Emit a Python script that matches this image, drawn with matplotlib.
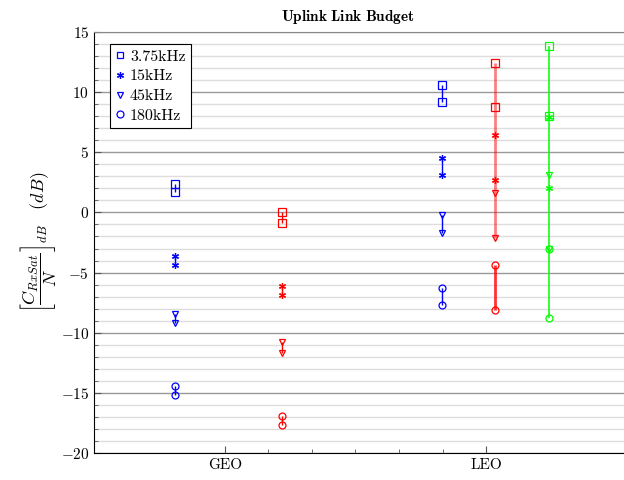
#!/usr/bin/env python

import matplotlib

matplotlib.use("Agg")
from matplotlib import pyplot, ticker

# orbit categories and x positions of each group of points
sites = ["GEO", "LEO"]
site_x = [1, 2]
group_x = [0.81, 1.22, 1.83, 2.035, 2.24]
group_color = ["blue", "red", "blue", "red", "lime"]

# upper / lower value for every bandwidth, one entry per group
labels = ["3.75kHz", "15kHz", "45kHz", "180kHz"]
sq_hi = [2.4, 0.0, 10.6, 12.45, 13.85]
sq_lo = [1.7, -0.85, 9.2, 8.75, 8.0]
st_hi = [-3.6, -6.1, 4.55, 6.4, 7.9]
st_lo = [-4.4, -6.9, 3.1, 2.7, 2.0]
tr_hi = [-8.45, -10.8, -0.2, 1.65, 3.1]
tr_lo = [-9.2, -11.7, -1.7, -2.1, -3.0]
ci_hi = [-14.4, -16.9, -6.25, -4.4, -3.0]
ci_lo = [-15.15, -17.7, -7.7, -8.1, -8.8]

pyplot.rcParams["font.family"] = "serif"
pyplot.rcParams["font.serif"] = ["cmr10"]
pyplot.rcParams["mathtext.fontset"] = "cm"
pyplot.rcParams["axes.formatter.use_mathtext"] = True
pyplot.rcParams["axes.unicode_minus"] = True

fig = pyplot.figure(figsize=(6.24, 4.8), dpi=100)
ax = fig.add_axes([94 / 624, 27 / 480, 536 / 624, 421 / 480])

hi = [sq_hi, st_hi, tr_hi, ci_hi]
lo = [sq_lo, st_lo, tr_lo, ci_lo]
markers = ["s", (6, 2, 0), "v", "o"]

# connecting lines
for g, (x, c) in enumerate(zip(group_x, group_color)):
    if c == "lime":
        ax.vlines(x, min(ci_lo[g], sq_lo[g]), max(sq_hi[g], ci_hi[g]), color=c, lw=1.1, zorder=3)
        continue
    if g == 3:
        ax.vlines(x, tr_lo[g], sq_hi[g], color=c, lw=2, alpha=0.5, zorder=3)
        ax.vlines(x, ci_lo[g], ci_hi[g], color=c, lw=2, alpha=0.8, zorder=3)
        continue
    for k in range(4):
        ax.vlines(x, lo[k][g], hi[k][g], color=c, lw=1, zorder=3)

# markers
for k in range(4):
    for g, (x, c) in enumerate(zip(group_x, group_color)):
        ms = 5.5 if k == 0 else 5
        if k == 1:
            ax.plot([x, x], [hi[k][g], lo[k][g]], ls="none", marker=markers[k], ms=ms,
                    mec=c, mew=0.9, zorder=4)
        else:
            ax.plot([x, x], [hi[k][g], lo[k][g]], ls="none", marker=markers[k], ms=ms,
                    mfc="none", mec=c, mew=0.9, zorder=4)

# legend handles (blue)
handles = []
for k in range(4):
    if k == 1:
        (h,) = ax.plot([], [], ls="none", marker=markers[k], ms=5, mec="blue", mew=0.9)
    else:
        (h,) = ax.plot([], [], ls="none", marker=markers[k], ms=5, mfc="none", mec="blue", mew=0.9)
    handles.append(h)
leg = ax.legend(handles, labels, loc="upper left", bbox_to_anchor=(0.03, 0.972),
                borderaxespad=0, fontsize=11.5, handlelength=0.6, handletextpad=0.3,
                borderpad=0.35, labelspacing=0.35, fancybox=False, framealpha=1,
                edgecolor="black")
leg.get_frame().set_linewidth(0.8)

ax.set_xlim(0.5, 2.55)
ax.set_ylim(-20, 15)
ax.set_xticks(site_x)
ax.set_xticklabels(sites, fontsize=11)
ax.xaxis.set_minor_locator(ticker.FixedLocator([1 + i / 6 for i in range(1, 6)]))
ax.yaxis.set_major_locator(ticker.MultipleLocator(5))
ax.yaxis.set_minor_locator(ticker.MultipleLocator(1))
ax.tick_params(axis="both", which="both", direction="in", color="#555555")
ax.tick_params(axis="both", which="major", length=5, labelsize=11)
ax.tick_params(axis="both", which="minor", length=3)
ax.tick_params(axis="y", which="both", right=False)

ax.grid(True, axis="y", which="major", color="#999999", lw=1)
ax.grid(True, axis="y", which="minor", color="#dddddd", lw=1)
ax.set_axisbelow(True)
ax.spines["right"].set_visible(False)
ax.spines["top"].set_color("#888888")

ax.set_title(r"$\mathbf{Uplink\ Link\ Budget}$", fontsize=11, pad=8, x=0.474)
ax.set_ylabel(r"$\left[\dfrac{C_{RxSat}}{N}\right]_{dB}\quad(dB)$", fontsize=13, labelpad=2)

fig.savefig("out.png", dpi=100)
